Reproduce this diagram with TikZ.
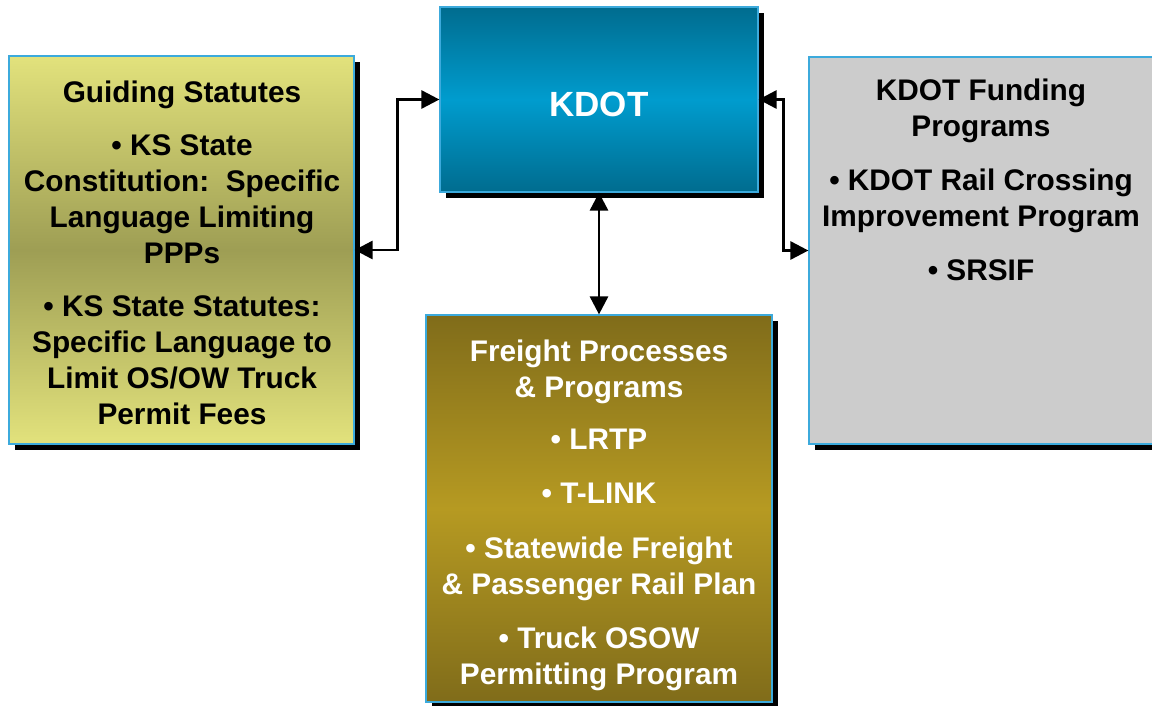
\documentclass[tikz,border=0pt]{standalone}
\usepackage{fontspec}
\setmainfont{Liberation Sans}
\usetikzlibrary{shadows,arrows.meta}
\definecolor{kdtop}{RGB}{0,108,143}
\definecolor{kdmid}{RGB}{0,156,206}
\definecolor{lftop}{RGB}{226,226,124}
\definecolor{lfmid}{RGB}{158,158,84}
\definecolor{bttop}{RGB}{128,108,26}
\definecolor{btmid}{RGB}{182,154,34}
\definecolor{rtgray}{RGB}{204,204,204}
\definecolor{edgeblue}{RGB}{60,170,220}
\tikzset{
  panel/.style={draw=edgeblue, line width=1.2pt, inner sep=0pt,
    drop shadow={fill=black, opacity=1, shadow xshift=6pt, shadow yshift=-6pt}},
  paneltext/.style={align=center, inner sep=0pt, anchor=north,
    font=\bfseries\fontsize{29.8}{36}\selectfont},
  link/.style={line width=2.8pt, {Triangle[length=18pt,width=18pt]}-{Triangle[length=18pt,width=18pt]}}
}
\begin{document}
\begin{tikzpicture}[x=1pt,y=-1pt]
\useasboundingbox (0,0) rectangle (1152,705);
% boxes
\node[panel, minimum width=318pt, minimum height=185pt,
  top color=kdtop, bottom color=kdtop, middle color=kdmid] (K) at (599,99.5) {};
\node[panel, minimum width=345pt, minimum height=388pt,
  top color=lftop, bottom color=lftop, middle color=lfmid] (L) at (181.5,250) {};
\node[panel, minimum width=345pt, minimum height=387pt, fill=rtgray] (R) at (981.5,250.5) {};
\node[panel, minimum width=346pt, minimum height=387pt,
  top color=bttop, bottom color=bttop, middle color=btmid] (B) at (599,508.5) {};
% texts
\node[align=center, inner sep=0pt, anchor=base, text=white,
  font=\bfseries\fontsize{35}{42}\selectfont] (Kt) at (599,116.5) {KDOT};
\node[paneltext, text=black] (Lt) at (182,80.4) {Guiding Statutes\\[17pt]
  • KS State\\ Constitution:~~Specific\\ Language Limiting\\ PPPs\\[17pt]
  • KS State Statutes:\\ Specific Language to\\ Limit OS/OW Truck\\ Permit Fees};
\node[paneltext, text=black] (Rt) at (981,78.4) {KDOT Funding\\ Programs\\[18pt]
  • KDOT Rail Crossing\\ Improvement Program\\[18pt] • SRSIF};
\node[paneltext, text=white] (Bt) at (599,339.4) {Freight Processes\\ \& Programs\\[16pt]
  • LRTP\\[18pt] • T-LINK\\[19pt] • Statewide Freight\\ \& Passenger Rail Plan\\[18pt]
  • Truck OSOW\\ Permitting Program};
% connectors
\draw[link] (L.east) -- ++(43,0) |- (K.west);
\draw[link] (K.east) -- ++(25,0) |- (R.west);
\draw[link] (K.south) -- (B.north);
\end{tikzpicture}
\end{document}
